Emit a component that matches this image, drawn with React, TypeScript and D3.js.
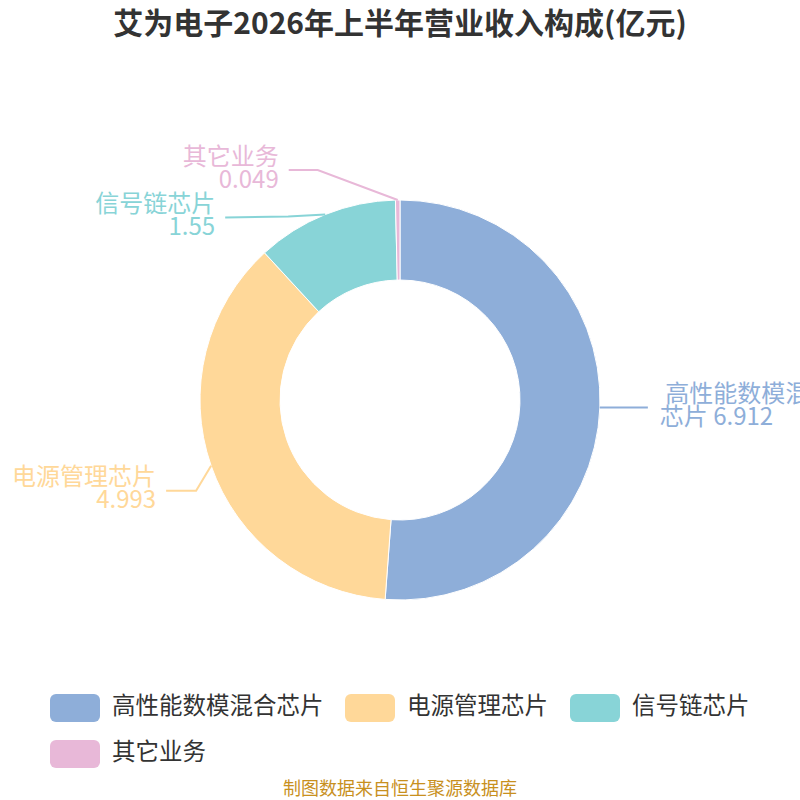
import React from "react";
import * as d3 from "d3";

const title = "艾为电子2026年上半年营业收入构成(亿元)";
const categories = ["高性能数模混合芯片", "电源管理芯片", "信号链芯片", "其它业务"];
const values = [6.912, 4.993, 1.55, 0.049];
const valueLabels = ["6.912", "4.993", "1.55", "0.049"];
const colors = ["#8eaed9", "#ffd899", "#88d4d7", "#e8b8d8"];
const footer = "制图数据来自恒生聚源数据库";

const W = 800;
const H = 800;
const cx = 400;
const cy = 400;
const outerR = 200;
const innerR = 120;
const font = "'Noto Sans CJK SC', 'Noto Sans', sans-serif";

// label layout: elbow & end offsets relative to the outer anchor point, text side
const labelLayout = [
  { elbow: [24, 0], end: [48, 0], anchor: "start", lines: ["\u00a0高性能数模混合", "芯片 6.912"] },
  { elbow: [-15, 25], end: [-45, 25], anchor: "end", lines: null },
  { elbow: [-37, 2], end: [-100, 3], anchor: "end", lines: null },
  { elbow: [-80, -30], end: [-109, -30], anchor: "end", lines: null },
];

export default function App() {
  const pie = d3
    .pie<number>()
    .value((d) => d)
    .sort(null)
    .startAngle(0)
    .endAngle(2 * Math.PI);
  const arcs = pie(values);
  const arcGen = d3.arc<d3.PieArcDatum<number>>().innerRadius(innerR).outerRadius(outerR);

  const legendItems = categories.map((c, i) => {
    const col = i < 3 ? i : 0;
    const row = i < 3 ? 0 : 1;
    const xs = [50, 345, 570];
    return { c, i, x: xs[col], y: 694 + row * 46 };
  });

  return (
    <svg width={W} height={H} style={{ display: "block", position: "absolute", left: 0, top: 0 }}>
      <rect width={W} height={H} fill="#ffffff" />
      <text
        x={cx}
        y={26}
        textAnchor="middle"
        dominantBaseline="middle"
        fontFamily={font}
        fontWeight="bold"
        fontSize={30}
        fill="#333333"
      >
        {title}
      </text>
      <g transform={`translate(${cx},${cy})`}>
        {arcs.map((a, i) => (
          <path key={i} d={arcGen(a) || ""} fill={colors[i]} stroke="#ffffff" strokeWidth={1} />
        ))}
        {arcs.map((a, i) => {
          const mid = (a.startAngle + a.endAngle) / 2;
          const px = outerR * Math.sin(mid);
          const py = -outerR * Math.cos(mid);
          const L = labelLayout[i];
          const ex = px + L.elbow[0];
          const ey = py + L.elbow[1];
          const tx = px + L.end[0];
          const ty = py + L.end[1];
          const textX = L.anchor === "end" ? tx - 10 : tx + 12;
          const lines = L.lines || [categories[i], valueLabels[i]];
          return (
            <g key={`l${i}`}>
              <polyline
                points={`${px},${py} ${ex},${ey} ${tx},${ty}`}
                fill="none"
                stroke={colors[i]}
                strokeWidth={2}
              />
              <text
                textAnchor={L.anchor as any}
                fontFamily={font}
                fontSize={24}
                fill={colors[i]}
              >
                <tspan x={textX} y={ty - 12} dominantBaseline="middle">
                  {lines[0]}
                </tspan>
                <tspan x={textX} y={ty + 11} dominantBaseline="middle">
                  {lines[1]}
                </tspan>
              </text>
            </g>
          );
        })}
      </g>
      {legendItems.map((it) => (
        <g key={it.c}>
          <rect x={it.x} y={it.y} width={50} height={28} rx={6} fill={colors[it.i]} />
          <text
            x={it.x + 62}
            y={it.y + 14}
            dominantBaseline="middle"
            fontFamily={font}
            fontSize={23.5}
            fill="#333333"
          >
            {it.c}
          </text>
        </g>
      ))}
      <text
        x={cx}
        y={790}
        textAnchor="middle"
        dominantBaseline="middle"
        fontFamily={font}
        fontSize={18}
        fill="#c8901e"
      >
        {footer}
      </text>
    </svg>
  );
}
